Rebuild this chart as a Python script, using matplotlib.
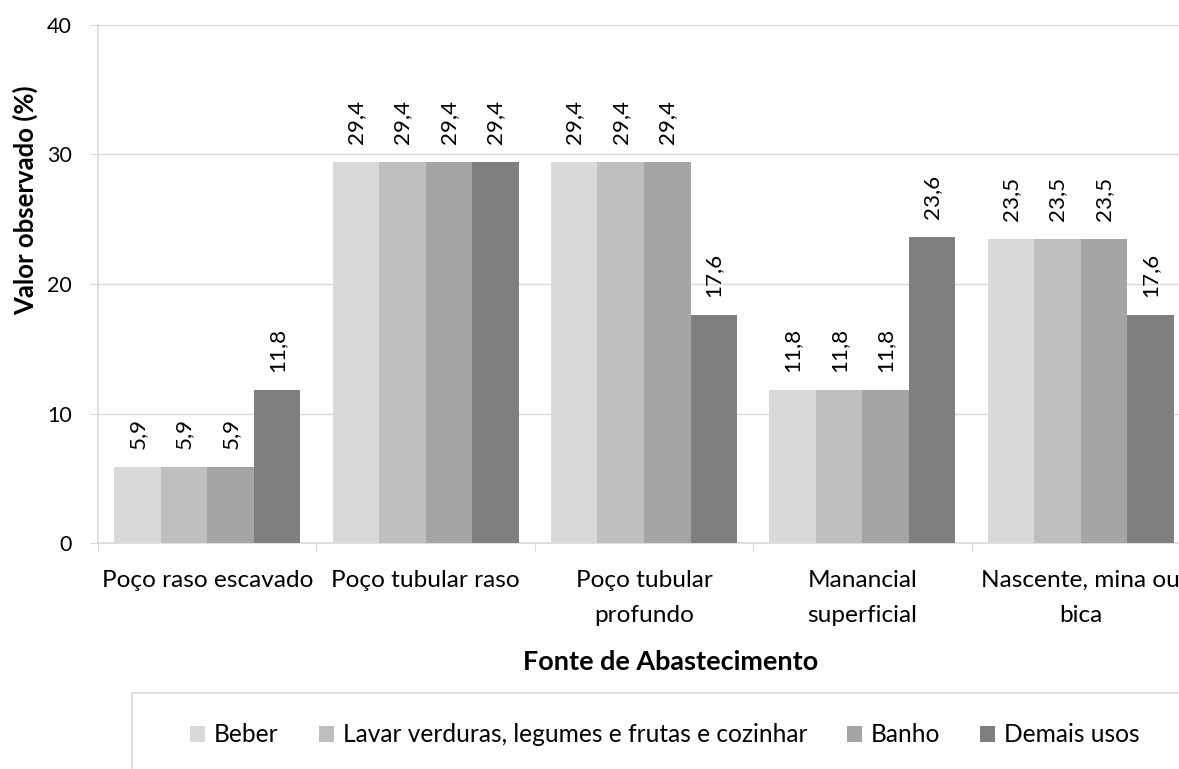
import matplotlib
matplotlib.use("Agg")
import matplotlib.pyplot as plt
import matplotlib.transforms as mtransforms
from matplotlib.font_manager import FontProperties
import numpy as np
from matplotlib.patches import Rectangle, Patch

FAMILY = ['Lato', 'DejaVu Sans']
plt.rcParams['font.family'] = FAMILY

categories = ["Poço raso escavado", "Poço tubular raso", "Poço tubular\nprofundo",
              "Manancial\nsuperficial", "Nascente, mina ou\nbica"]
series_names = ["Beber", "Lavar verduras, legumes e frutas e cozinhar", "Banho", "Demais usos"]
beber = [5.9, 29.4, 29.4, 11.8, 23.5]
lavar = [5.9, 29.4, 29.4, 11.8, 23.5]
banho = [5.9, 29.4, 29.4, 11.8, 23.5]
demais = [11.8, 29.4, 17.6, 23.6, 17.6]
colors = ["#d9d9d9", "#bfbfbf", "#a5a5a5", "#7f7f7f"]

W, H = 1179, 769
DPI = 100
fig = plt.figure(figsize=(W/DPI, H/DPI), dpi=DPI)
renderer = fig.canvas.get_renderer()


def fit_size(text, target_px, weight='normal'):
    s0 = 20.0
    prop = FontProperties(family=FAMILY, weight=weight, size=s0)
    w, _, _ = renderer.get_text_width_height_descent(text, prop, ismath=False)
    return s0 * target_px / w


cat_fs = fit_size("Poço raso escavado", 211)
val_fs = fit_size("29,4", 44)
ytick_fs = fit_size("40", 25)
leg_fs = fit_size(series_names[1], 466)
xlab_fs = fit_size("Fonte de Abastecimento", 295, 'bold')
ylab_fs = fit_size("Valor observado (%)", 230, 'bold')

ax = fig.add_axes([98/W, (H-543)/H, (1190-98)/W, (543-25)/H])

x = np.arange(len(categories))
bw = 0.213
series = [beber, lavar, banho, demais]
for i, (vals, c) in enumerate(zip(series, colors)):
    pos = x + (i - 1.5) * bw
    ax.bar(pos, vals, width=bw, color=c, edgecolor='none', zorder=3, label=series_names[i])
    for xp, v in zip(pos, vals):
        ax.annotate(f"{v:.1f}".replace('.', ','), (xp, v), xytext=(0, 18*72/DPI),
                    textcoords='offset points', rotation=90, ha='center', va='bottom',
                    fontsize=val_fs, color='black')

ax.set_xlim(-0.5, len(categories) - 0.5)
ax.set_ylim(0, 40)
ax.set_yticks([0, 10, 20, 30, 40])
ax.tick_params(axis='y', labelsize=ytick_fs, length=8*72/DPI, color='#d9d9d9', pad=18*72/DPI)
ax.yaxis.grid(True, color='#d9d9d9', linewidth=1, zorder=0)
ax.set_xticks(np.arange(-0.5, len(categories)))
ax.set_xticklabels([])
ax.tick_params(axis='x', length=8*72/DPI, color='#d9d9d9', direction='out')
for s in ['top', 'right']:
    ax.spines[s].set_visible(False)
for s in ['left', 'bottom']:
    ax.spines[s].set_color('#d9d9d9')
    ax.spines[s].set_linewidth(1.2)

# category labels (x from data scale, y in figure pixels)
trans = mtransforms.blended_transform_factory(ax.transData, fig.transFigure)
baselines = [587, 622]
for xi, cat in zip(x, categories):
    for j, line in enumerate(cat.split("\n")):
        ax.text(xi, 1 - baselines[j]/H, line, transform=trans, ha='center', va='baseline',
                fontsize=cat_fs, color='black', clip_on=False)

fig.text(25/W, 1 - 200/H, "Valor observado (%)", rotation=90, ha='center', va='center',
         fontsize=ylab_fs, fontweight='bold')
fig.text(671/W, 1 - 670/H, "Fonte de Abastecimento", ha='center', va='baseline',
         fontsize=xlab_fs, fontweight='bold')

fig.patches.append(Rectangle((132/W, -0.05), 1.2, (H-693)/H + 0.05, transform=fig.transFigure,
                             facecolor='none', edgecolor='#d9d9d9', linewidth=1.2))
fs_px = leg_fs * DPI / 72
handles = [Patch(facecolor=c, edgecolor='none') for c in colors]
fig.legend(handles, series_names, loc='center', bbox_to_anchor=(665/W, 1 - 735/H), ncol=4,
           frameon=False, fontsize=leg_fs, handlelength=15/fs_px, handleheight=15/fs_px,
           handletextpad=9/fs_px, columnspacing=40/fs_px, borderpad=0)

fig.savefig("out.png", dpi=DPI)
